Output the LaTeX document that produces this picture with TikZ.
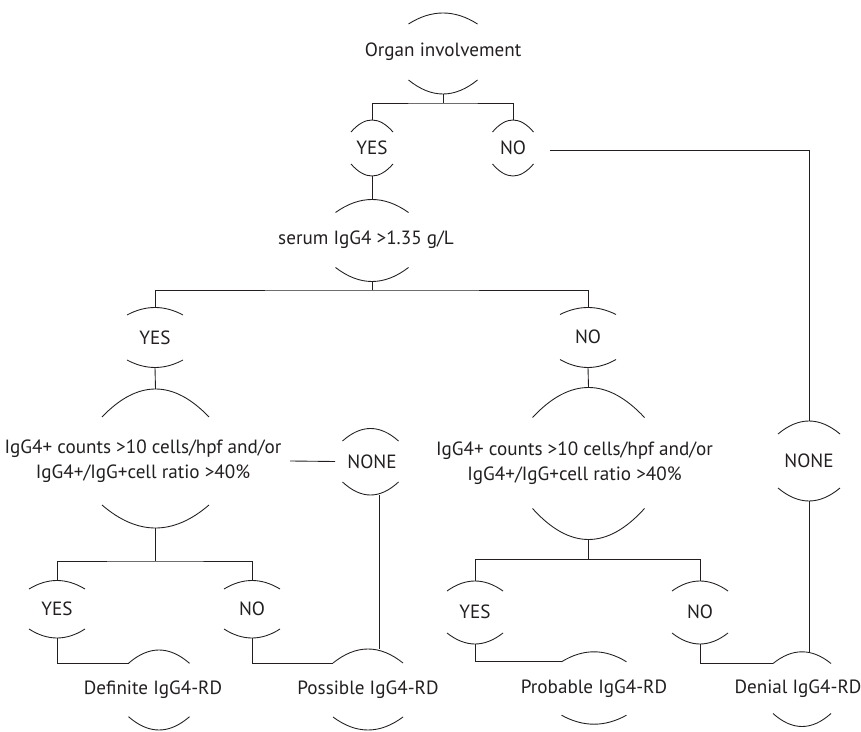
\documentclass[tikz,border=0pt]{standalone}
\usepackage{fontspec}
\setmainfont{PT Sans}
\usepackage{xcolor}
\usepackage{tikz}
\definecolor{ink}{HTML}{231F20}

\begin{document}
\begin{tikzpicture}[x=0.02cm, y=-0.02cm, line width=0.5pt, color=ink,
        txt/.style={font=\fontsize{10.9}{14.2}\selectfont, align=center, inner sep=3pt}]
        \useasboundingbox (0,0) rectangle (861,732);

        % questions and answers
        \node (organ) [txt] at (443,52) {Organ involvement};
        \node (yesA) [txt] at (372,148) {YES};
        \node (noA) [txt] at (513,148) {NO};
        \node (serum) [txt] at (366,240) {serum IgG4 >1.35 g/L};
        \node (yesB) [txt] at (155,337.5) {YES};
        \node (noB) [txt] at (588,337) {NO};
        \node (bigL) [txt] at (143,461)
            {IgG4+ counts >10 cells/hpf and/or\\IgG4+/IgG+cell ratio >40\%};
        \node (noneL) [txt] at (372,461.5) {NONE};
        \node (bigR) [txt] at (574.5,463)
            {IgG4+ counts >10 cells/hpf and/or\\IgG4+/IgG+cell ratio >40\%};
        \node (noneR) [txt] at (809,461) {NONE};
        \node (yesC) [txt] at (57,609) {YES};
        \node (noC) [txt] at (252,609) {NO};
        \node (yesD) [txt] at (475,612) {YES};
        \node (noD) [txt] at (700,612) {NO};

        % outcomes
        \node (definite) [txt] at (153,690) {Definite IgG4-RD};
        \node (possible) [txt] at (368,690) {Possible IgG4-RD};
        \node (probable) [txt] at (594,688.5) {Probable IgG4-RD};
        \node (denial) [txt] at (798,688.5) {Denial IgG4-RD};

        % arcs above and below each text
        \foreach \n/\dx/\w/\h/\st/\sb in {organ/0/34.5/28/11/14, yesA/0/21/16/12/12,
                noA/0/20.5/16/12/12, serum/6/36.5/27.5/13/14, yesB/0/28/22.5/7.5/7.5,
                noB/0/28/22.5/7/8, bigL/12.5/53.5/44/28/23, noneL/-1.5/28/20.5/12.5/13,
                bigR/14/56/45.5/30/31, noneR/0/31/27/13/13, yesC/0/28/20/8.5/9,
                noC/0/28/20/8.5/9, yesD/0/28/21/10/11, noD/0/28/21/10/11,
                definite/6/30.5/26.7/13.3/13.3, possible/0/35/27/14/13,
                probable/0/32.5/26.7/10/9, denial/4/29/25/11.7/13}
        {
            \draw ([shift={(\dx-\w,-\h)}]\n.center) coordinate (\n-w)
                .. controls +({2/3*\w},{-4/3*\st}) and +({-2/3*\w},{-4/3*\st})
                .. ([shift={(\dx+\w,-\h)}]\n.center);
            \draw ([shift={(\dx-\w,\h)}]\n.center)
                .. controls +({2/3*\w},{4/3*\sb}) and +({-2/3*\w},{4/3*\sb})
                .. ([shift={(\dx+\w,\h)}]\n.center);
            \coordinate (\n-t) at ([shift={(\dx,-\h-\st)}]\n.center);
            \coordinate (\n-b) at ([shift={(\dx,\h+\sb)}]\n.center);
        }

        % branching bars
        \coordinate (barA) at (443,103);
        \coordinate (barB) at (372,290);
        \coordinate (barC) at (155.5,561);
        \coordinate (barD) at (588.5,559.3);

        \draw (organ-b) -- (barA);
        \draw (yesA-t) |- (barA) -| (noA-t);
        \draw (yesA-b) -- (serum-t);
        \draw ([shift={(37,2)}]noA.center) -| (noneR-t);
        \draw (serum-b) -- (barB);
        \draw (yesB-t) |- (barB) -| (noB-t);
        \draw (yesB-b) -- (bigL-t);
        \draw (noB-b) -- (bigR-t);
        \draw ([shift={(147,0)}]bigL.center) -- ([shift={(-37,0)}]noneL.center);
        \draw ([shift={(9,0)}]noneL-b) -- ([shift={(9,0)}]noneL-b |- possible-t);
        \draw (bigL-b) -- (barC);
        \draw (yesC-t) |- (barC) -| (noC-t);
        \draw (yesC-b) |- (definite-w);
        \draw (noC-b) |- (possible-w);
        \draw (bigR-b) -- (barD);
        \draw (yesD-t) |- (barD) -| (noD-t);
        \draw (yesD-b) |- (probable-w);
        \draw (noD-b) |- (denial-w);
        \draw (noneR-b) -- (noneR-b |- denial-t);
    \end{tikzpicture}
\end{document}
